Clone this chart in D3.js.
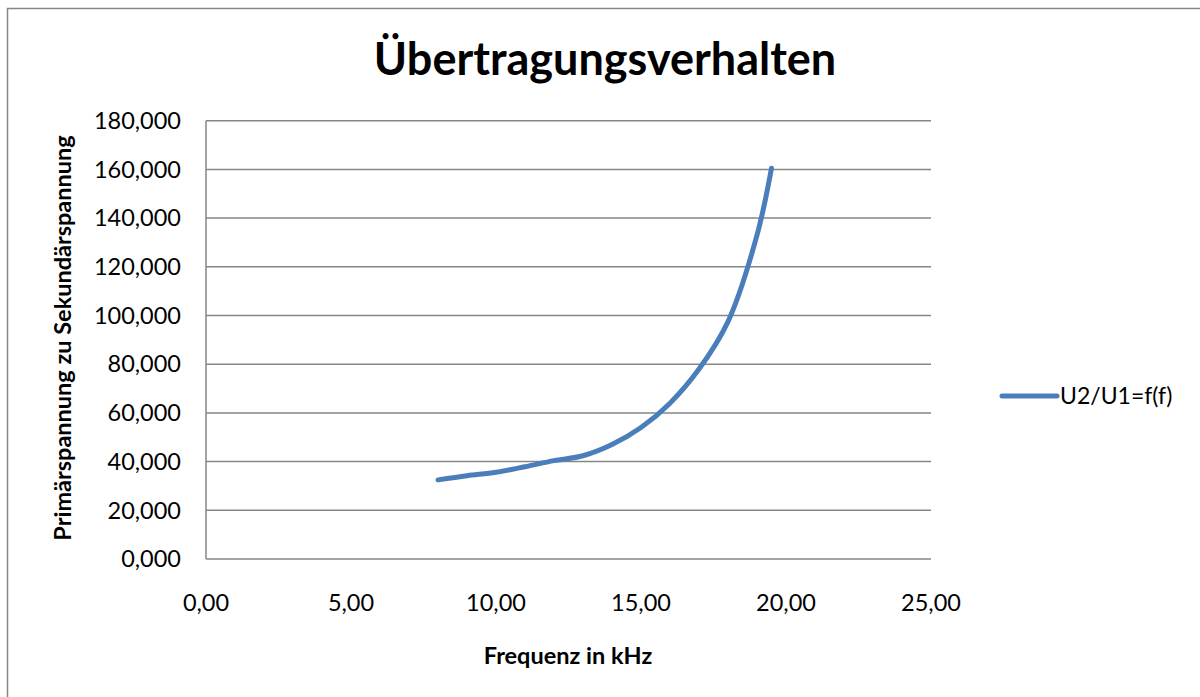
<!DOCTYPE html>
<html>
<head>
<meta charset="utf-8">
<script src="https://cdn.jsdelivr.net/npm/d3@7"></script>
<style>
  html, body { margin: 0; padding: 0; background: #fff; }
  svg { display: block; font-family: Lato, "Open Sans", sans-serif; }
</style>
</head>
<body>
<svg id="chart" width="1200" height="697"></svg>
<script>
// Frequency (kHz) and voltage ratio U2/U1
const frequency = [8, 9, 10, 11, 12, 13, 14, 15, 16, 17, 18, 19, 19.5];
const ratio     = [32.5, 34.2, 35.6, 37.9, 40.4, 42.4, 47.0, 54.0, 64.0, 78.0, 97.5, 133.0, 160.5];
const xTicks = [0, 5, 10, 15, 20, 25];
const yTicks = [0, 20, 40, 60, 80, 100, 120, 140, 160, 180];
const seriesName = "U2/U1=f(f)";
const title = "Übertragungsverhalten";
const xTitle = "Frequenz in kHz";
const yTitle = "Primärspannung zu Sekundärspannung";

const svg = d3.select("#chart");
const plot = { left: 206, right: 931, top: 120.7, bottom: 559 };
const gridColor = "#868686";
const lineColor = "#4a7ebb";

// outer chart frame (top and left edges)
svg.append("path")
  .attr("d", "M7.5,697 L7.5,8.5 L1200,8.5")
  .attr("fill", "none").attr("stroke", gridColor).attr("stroke-width", 1.5);

const x = d3.scaleLinear().domain([0, 25]).range([plot.left, plot.right]);
const y = d3.scaleLinear().domain([0, 180]).range([plot.bottom, plot.top]);

const fmtX = v => d3.format(".2f")(v).replace(".", ",");
const fmtY = v => d3.format(".3f")(v).replace(".", ",");

// horizontal gridlines
svg.append("g").selectAll("line").data(yTicks).join("line")
  .attr("x1", plot.left).attr("x2", plot.right)
  .attr("y1", d => y(d)).attr("y2", d => y(d))
  .attr("stroke", gridColor).attr("stroke-width", 1.5);

// y axis line
svg.append("line")
  .attr("x1", plot.left).attr("x2", plot.left)
  .attr("y1", plot.top).attr("y2", plot.bottom)
  .attr("stroke", gridColor).attr("stroke-width", 1.5);

// y tick labels
svg.append("g").selectAll("text").data(yTicks).join("text")
  .attr("x", plot.left - 25).attr("y", d => y(d))
  .attr("dy", "0.35em").attr("text-anchor", "end")
  .attr("font-size", 23.5).attr("fill", "#000")
  .text(fmtY);

// x tick labels
svg.append("g").selectAll("text").data(xTicks).join("text")
  .attr("x", d => x(d)).attr("y", 603)
  .attr("dy", "0.35em").attr("text-anchor", "middle")
  .attr("font-size", 23.5).attr("fill", "#000")
  .text(fmtX);

// series line
const line = d3.line()
  .x((d, i) => x(frequency[i]))
  .y(d => y(d))
  .curve(d3.curveCatmullRom.alpha(0.5));

svg.append("path")
  .datum(ratio)
  .attr("d", line)
  .attr("fill", "none")
  .attr("stroke", lineColor)
  .attr("stroke-width", 5)
  .attr("stroke-linecap", "round")
  .attr("stroke-linejoin", "round");

// title
svg.append("text")
  .attr("x", 605).attr("y", 59).attr("dy", "0.35em")
  .attr("text-anchor", "middle")
  .attr("font-size", 45).attr("font-weight", "bold")
  .text(title);

// axis titles
svg.append("text")
  .attr("x", 568).attr("y", 656).attr("dy", "0.35em")
  .attr("text-anchor", "middle")
  .attr("font-size", 23.5).attr("font-weight", "bold")
  .text(xTitle);

svg.append("text")
  .attr("transform", "translate(63,338) rotate(-90)")
  .attr("dy", "0.35em")
  .attr("text-anchor", "middle")
  .attr("font-size", 23.5).attr("font-weight", "bold")
  .text(yTitle);

// legend
const legend = svg.append("g").attr("transform", "translate(1002,396)");
legend.append("line")
  .attr("x1", 0).attr("x2", 55).attr("y1", 0).attr("y2", 0)
  .attr("stroke", lineColor).attr("stroke-width", 5).attr("stroke-linecap", "round");
legend.append("text")
  .attr("x", 58).attr("y", 0).attr("dy", "0.35em")
  .attr("font-size", 23)
  .text(seriesName);
</script>
</body>
</html>
